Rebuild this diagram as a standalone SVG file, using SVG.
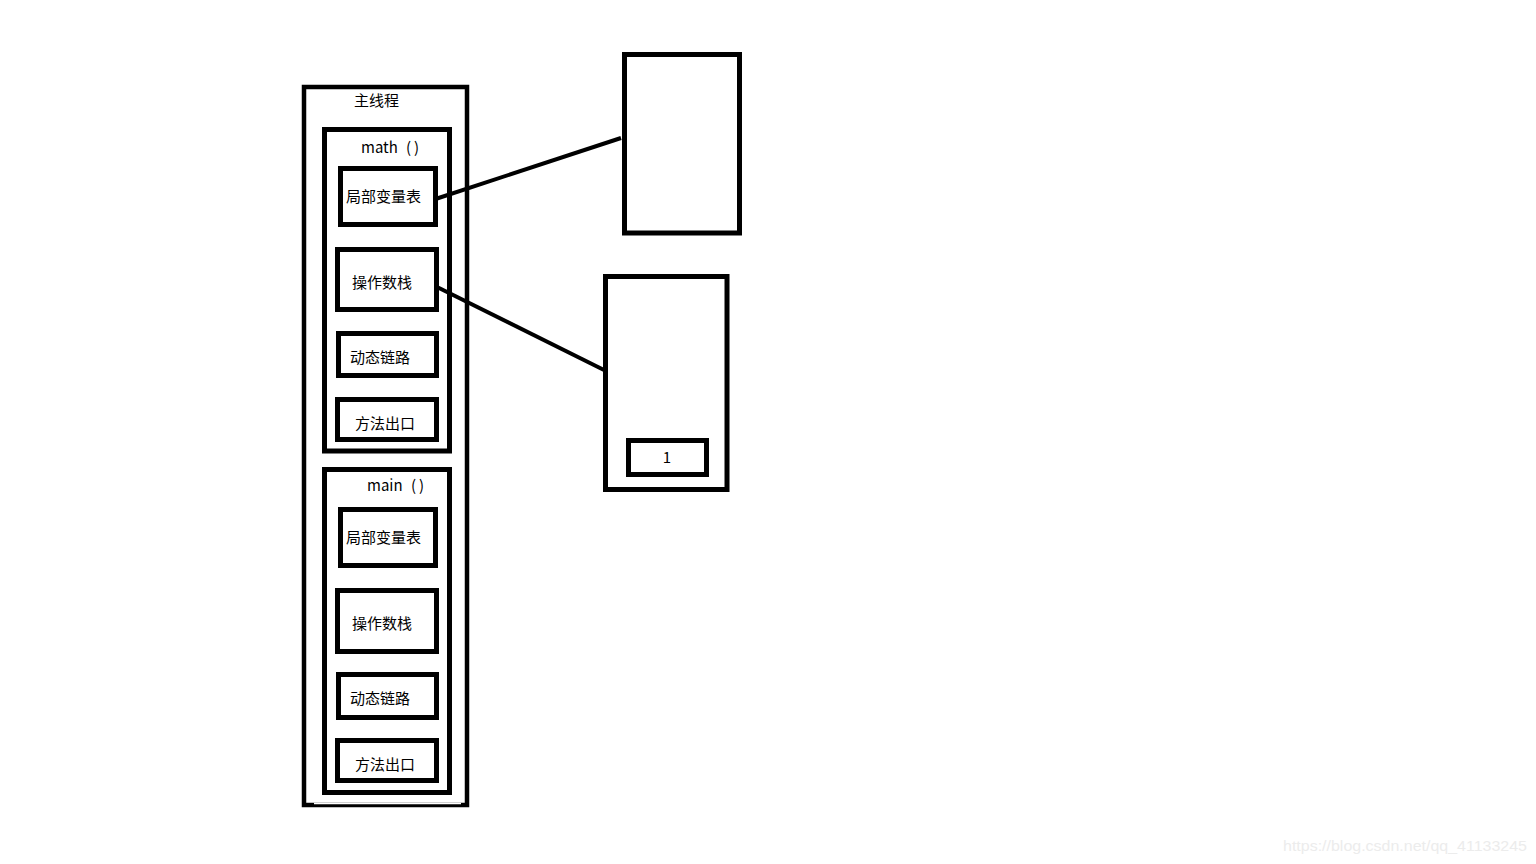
<svg xmlns="http://www.w3.org/2000/svg" width="1536" height="864" viewBox="0 0 1536 864">
<style>
.box{fill:none;stroke:#000;stroke-width:5}
.frame{fill:none;stroke:#000;stroke-width:4.5}
.t{font-family:"Noto Sans CJK SC","Noto Sans",sans-serif;font-size:15px;fill:#000}
.c{stroke:#000;stroke-width:4;fill:none;stroke-linecap:butt}
</style>
<rect width="1536" height="864" fill="#fff"/>
<g id="main-thread">
<rect class="frame" x="304" y="87" width="163" height="718"/>
<line x1="314" y1="803.5" x2="461" y2="803.5" stroke="#fff" stroke-width="1.5"/>
<text class="t" x="354" y="106">主线程</text>
</g>
<g id="frame-math">
<rect class="box" x="324.5" y="129.5" width="125" height="321.5"/>
<text class="t" x="361" y="153">math<tspan x="406">(</tspan><tspan x="414">)</tspan></text>
</g>
<g id="math-locals">
<rect class="box" x="340.5" y="168.5" width="95" height="56"/>
<text class="t" x="346" y="202">局部变量表</text>
</g>
<g id="math-operand">
<rect class="box" x="337.5" y="249.5" width="99" height="60"/>
<text class="t" x="352" y="288">操作数栈</text>
</g>
<g id="math-dynlink">
<rect class="box" x="338.5" y="333.5" width="98" height="42"/>
<text class="t" x="350" y="363">动态链路</text>
</g>
<g id="math-exit">
<rect class="box" x="337.5" y="399.5" width="99" height="40"/>
<text class="t" x="355" y="429">方法出口</text>
</g>
<g id="frame-main">
<rect class="box" x="324.5" y="469.5" width="125" height="323"/>
<text class="t" x="367" y="491">main<tspan x="411">(</tspan><tspan x="419">)</tspan></text>
</g>
<g id="main-locals">
<rect class="box" x="340.5" y="509.5" width="95" height="56"/>
<text class="t" x="346" y="543">局部变量表</text>
</g>
<g id="main-operand">
<rect class="box" x="337.5" y="590.5" width="99" height="61"/>
<text class="t" x="352" y="629">操作数栈</text>
</g>
<g id="main-dynlink">
<rect class="box" x="338.5" y="674.5" width="98" height="43"/>
<text class="t" x="350" y="704">动态链路</text>
</g>
<g id="main-exit">
<rect class="box" x="337.5" y="740.5" width="99" height="40"/>
<text class="t" x="355" y="770">方法出口</text>
</g>
<g id="locals-area">
<rect class="box" x="624.5" y="54.5" width="115" height="178.5"/>
</g>
<g id="operand-area">
<rect class="box" x="605.5" y="276.5" width="121.5" height="213"/>
</g>
<g id="operand-item">
<rect class="box" x="628.5" y="440.5" width="78" height="34"/>
<text class="t" x="667" y="463" text-anchor="middle">1</text>
</g>
<g id="connectors">
<line class="c" x1="434" y1="199.5" x2="621" y2="138"/>
<line class="c" x1="437" y1="287" x2="604" y2="370"/>
</g>
<text x="1283" y="851" font-family="Liberation Sans, Arial, sans-serif" font-size="15" fill="#ececec" textLength="244" lengthAdjust="spacingAndGlyphs">https://blog.csdn.net/qq_41133245</text>
</svg>
